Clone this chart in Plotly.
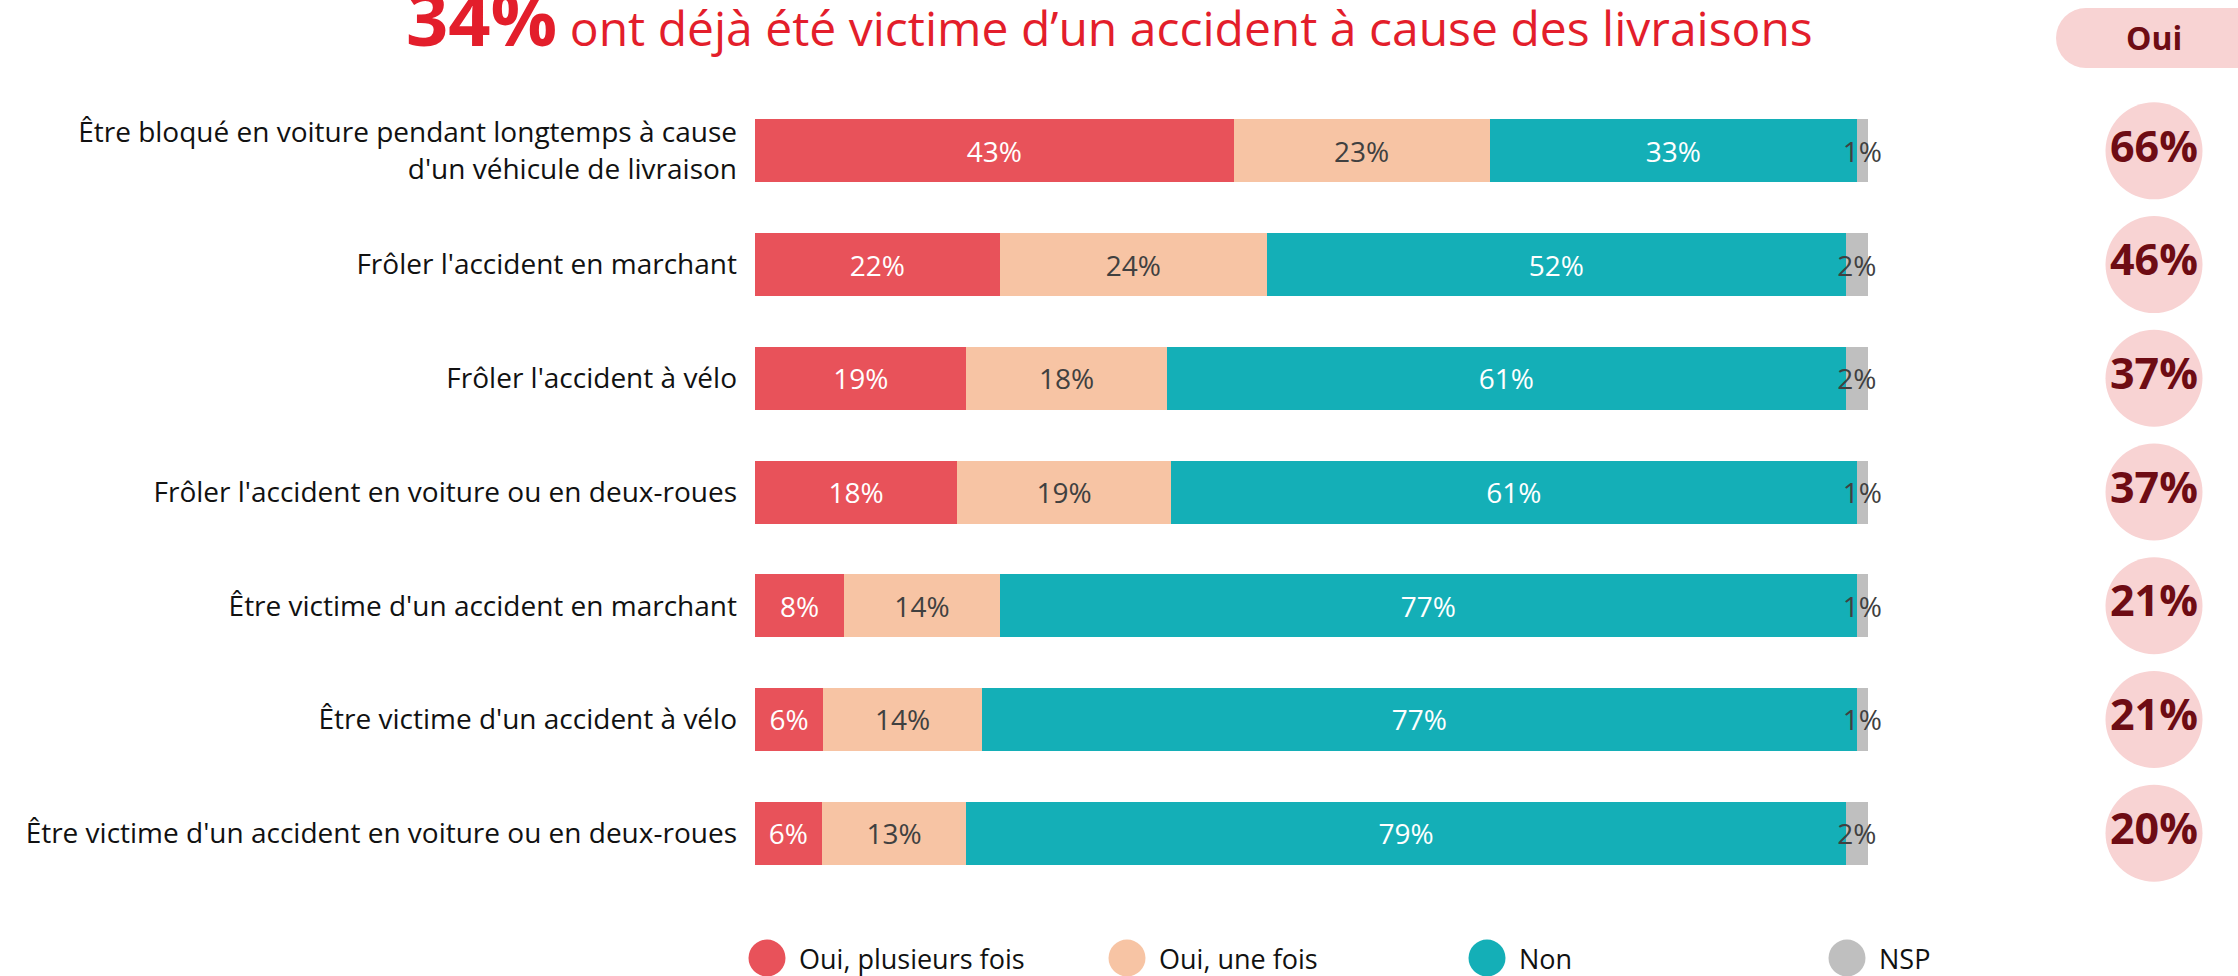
import plotly.graph_objects as go

W, H = 2238, 976

categories = [
    "Être bloqué en voiture pendant longtemps à cause<br>d'un véhicule de livraison",
    "Frôler l'accident en marchant",
    "Frôler l'accident à vélo",
    "Frôler l'accident en voiture ou en deux-roues",
    "Être victime d'un accident en marchant",
    "Être victime d'un accident à vélo",
    "Être victime d'un accident en voiture ou en deux-roues",
]
series_names = ["Oui, plusieurs fois", "Oui, une fois", "Non", "NSP"]
oui_plusieurs = [43, 22, 19, 18, 8, 6, 6]
oui_une = [23, 24, 18, 19, 14, 14, 13]
non = [33, 52, 61, 61, 77, 77, 79]
nsp = [1, 2, 2, 1, 1, 1, 2]
oui_total = [66, 46, 37, 37, 21, 21, 20]

series_values = [oui_plusieurs, oui_une, non, nsp]
colors = ["#E8525A", "#F7C4A4", "#14AFB7", "#BFBFBF"]
text_colors = ["#FFFFFF", "#404040", "#FFFFFF", "#404040"]

FONT = "Open Sans"

def px(x):
    return x / W

def py(y):
    return 1 - y / H

fig = go.Figure()
for name, vals, col, tcol in zip(series_names, series_values, colors, text_colors):
    fig.add_trace(go.Bar(
        x=vals, y=categories, orientation="h", name=name,
        marker=dict(color=col, line=dict(width=0)),
        text=[f"{v}%" for v in vals],
        textposition="inside", insidetextanchor="middle",
        textangle=0, constraintext="none", cliponaxis=False,
        insidetextfont=dict(family=FONT, size=28, color=tcol),
        showlegend=False, hoverinfo="skip",
    ))

fig.add_trace(go.Scatter(
    x=[0.5] * len(categories), y=categories, xaxis="x2", yaxis="y",
    mode="markers+text",
    marker=dict(size=97, color="#F8D3D3", line=dict(width=0)),
    text=[f"{v}%" for v in oui_total], textposition="middle center",
    textfont=dict(family=FONT, size=43, color="#6E0C14", weight=700),
    showlegend=False, hoverinfo="skip", cliponaxis=False,
))

shapes = []
annotations = []

# "Oui" header pill
shapes.append(dict(type="circle", xref="paper", yref="paper",
                   x0=px(2056), x1=px(2116), y0=py(68), y1=py(8),
                   fillcolor="#F8D3D3", line=dict(width=0), layer="below"))
shapes.append(dict(type="rect", xref="paper", yref="paper",
                   x0=px(2086), x1=px(2238), y0=py(68), y1=py(8),
                   fillcolor="#F8D3D3", line=dict(width=0), layer="below"))
annotations.append(dict(text="Oui", xref="paper", yref="paper", x=px(2154), y=py(38),
                        xanchor="center", yanchor="middle", showarrow=False,
                        font=dict(family=FONT, size=32, color="#6E0C14", weight=700)))

# Title
annotations.append(dict(
    text="<span style='font-size:74px;font-weight:bold'>34%</span> ont déjà été victime d’un accident à cause des livraisons",
    xref="paper", yref="paper", x=px(1109), y=py(18), xanchor="center", yanchor="middle",
    showarrow=False, font=dict(family=FONT, size=48, color="#E31E2B")))

# Custom legend
for i, (name, col) in enumerate(zip(series_names, colors)):
    cx = 767 + i * 360
    cy = 958
    r = 18.5
    shapes.append(dict(type="circle", xref="paper", yref="paper",
                       x0=px(cx - r), x1=px(cx + r), y0=py(cy + r), y1=py(cy - r),
                       fillcolor=col, line=dict(width=0)))
    annotations.append(dict(text=name, xref="paper", yref="paper", x=px(cx + 30), y=py(cy),
                            xanchor="left", yanchor="middle", showarrow=False,
                            font=dict(family=FONT, size=27, color="#111111")))

fig.update_layout(
    width=W, height=H, autosize=False,
    margin=dict(l=0, r=0, t=0, b=0),
    paper_bgcolor="white", plot_bgcolor="white",
    barmode="stack", barnorm="percent", bargap=0.446,
    xaxis=dict(domain=[px(755), px(1868)], range=[0, 100], visible=False, fixedrange=True),
    xaxis2=dict(domain=[px(2100), px(2208)], range=[0, 1], visible=False, anchor="y"),
    yaxis=dict(domain=[py(890), py(94)], categoryorder="array", categoryarray=categories,
               range=[6.5, -0.5], showgrid=False, zeroline=False, showline=False,
               ticks="", ticklabelstandoff=17, automargin=False,
               tickfont=dict(family=FONT, size=28, color="#111111")),
    shapes=shapes, annotations=annotations,
    font=dict(family=FONT),
)

fig.write_html("out.html", config={"displayModeBar": False},
               post_script="document.body.style.margin='0';document.body.style.overflow='hidden';")
